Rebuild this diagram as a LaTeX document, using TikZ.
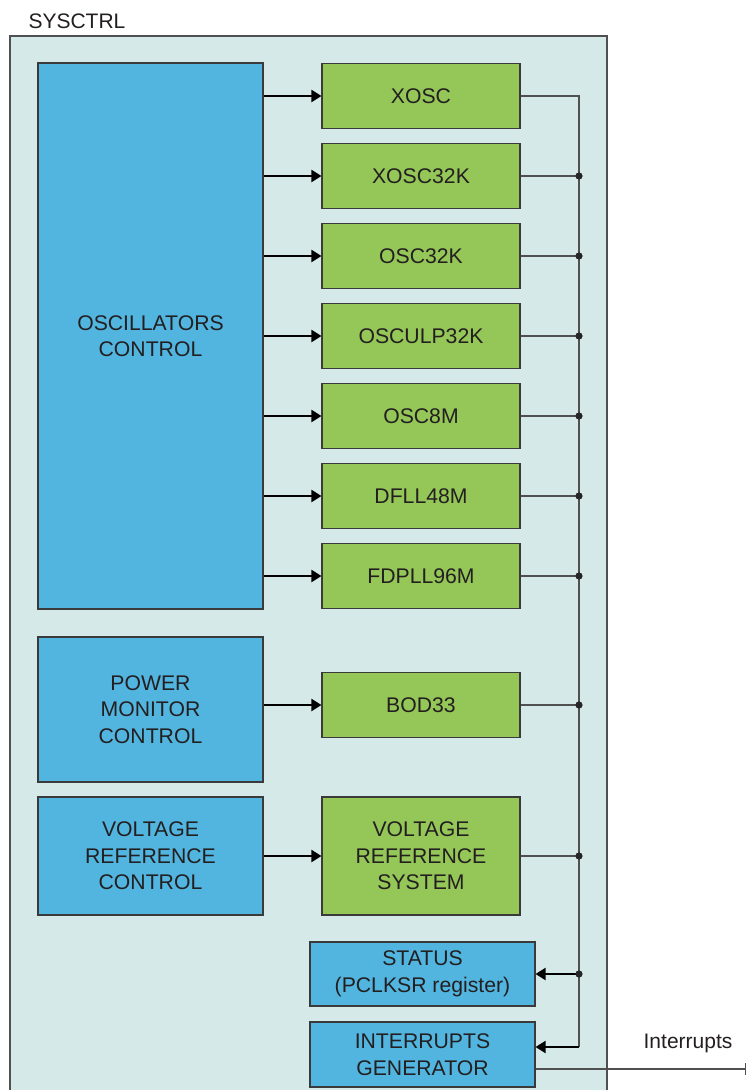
\documentclass[tikz,border=0pt]{standalone}
\usepackage{fontspec}
\setmainfont{Liberation Sans}
\usetikzlibrary{arrows.meta}
\definecolor{bgc}{HTML}{D5EAE8}
\definecolor{bluec}{HTML}{51B5DF}
\definecolor{greenc}{HTML}{94C658}
\definecolor{edgec}{HTML}{3A3A3A}
\definecolor{busc}{HTML}{505050}
\definecolor{txtc}{HTML}{231F20}
\begin{document}
\begin{tikzpicture}[x=1pt,y=-1pt,
  blk/.style={draw=edgec, line width=1.1pt, align=center, inner sep=0pt,
    font=\fontsize{21.2}{26.5}\selectfont, text=txtc},
  bluebox/.style={blk, fill=bluec, minimum width=225pt},
  greenbox/.style={blk, fill=greenc, minimum width=198pt},
  arr/.style={line width=2pt, draw=black, -{Triangle[length=10pt,width=12pt]}},
  busline/.style={line width=1.4pt, draw=busc},
  jdot/.style={fill=black!85}
]
\useasboundingbox (0,0) rectangle (746,1090);
\node[anchor=west, font=\fontsize{21}{24}\selectfont, text=txtc] (title) at (25,21) {SYSCTRL};
\node[draw=busc, line width=1.4pt, fill=bgc, minimum width=597pt, minimum height=1062pt, inner sep=0pt] (outer) at (308.5,567) {};

\node[bluebox, minimum height=546pt] (osc) at (150.5,336) {OSCILLATORS\\CONTROL};
\node[greenbox, minimum height=65pt] (g1) at (421,96) {XOSC};
\node[greenbox, minimum height=65pt] (g2) at (421,176) {XOSC32K};
\node[greenbox, minimum height=65pt] (g3) at (421,256) {OSC32K};
\node[greenbox, minimum height=65pt] (g4) at (421,336) {OSCULP32K};
\node[greenbox, minimum height=65pt] (g5) at (421,416) {OSC8M};
\node[greenbox, minimum height=65pt] (g6) at (421,496) {DFLL48M};
\node[greenbox, minimum height=65pt] (g7) at (421,576) {FDPLL96M};

\node[bluebox, minimum height=145pt] (pm) at (150.5,709.5) {POWER\\MONITOR\\CONTROL};
\node[greenbox, minimum height=65pt] (bod) at (421,705) {BOD33};
\node[bluebox, minimum height=118pt] (vrc) at (150.5,856) {VOLTAGE\\REFERENCE\\CONTROL};
\node[greenbox, minimum height=118pt] (vrs) at (421,856) {VOLTAGE\\REFERENCE\\SYSTEM};
\node[bluebox, minimum height=64pt] (status) at (422.5,974) {STATUS\\(PCLKSR register)};
\node[bluebox, minimum height=65pt] (intg) at (422.5,1054.5) {INTERRUPTS\\GENERATOR};

% control arrows
\foreach \g in {g1,g2,g3,g4,g5,g6,g7} {
  \draw[arr] (osc.east |- \g) -- (\g.west);
}
\draw[arr] (pm.east |- bod) -- (bod.west);
\draw[arr] (vrc.east) -- (vrs.west);

% bus
\coordinate (bt) at (579,96);
\coordinate (bb) at (579,1047);
\draw[busline] (g1.east) -- (bt) -- (bb);
\foreach \g in {g2,g3,g4,g5,g6,g7,bod,vrs} {
  \draw[busline] (\g.east) -- (\g.east -| bt);
  \fill[jdot] (\g.east -| bt) circle[radius=3.6pt];
}
\draw[arr] (bt |- status) -- (status.east);
\fill[jdot] (bt |- status) circle[radius=3.6pt];
\draw[arr] (bb) -- (intg.east |- bb);

% interrupts output
\coordinate (iout) at (745,1069);
\draw[busline] (intg.east |- iout) -- (iout);
\draw[busline, line width=1pt] ([yshift=-6pt]iout) -- ([yshift=6pt]iout);
\node[anchor=south, font=\fontsize{21}{24}\selectfont, text=txtc] (ilab) at (688,1056) {Interrupts};
\end{tikzpicture}
\end{document}
